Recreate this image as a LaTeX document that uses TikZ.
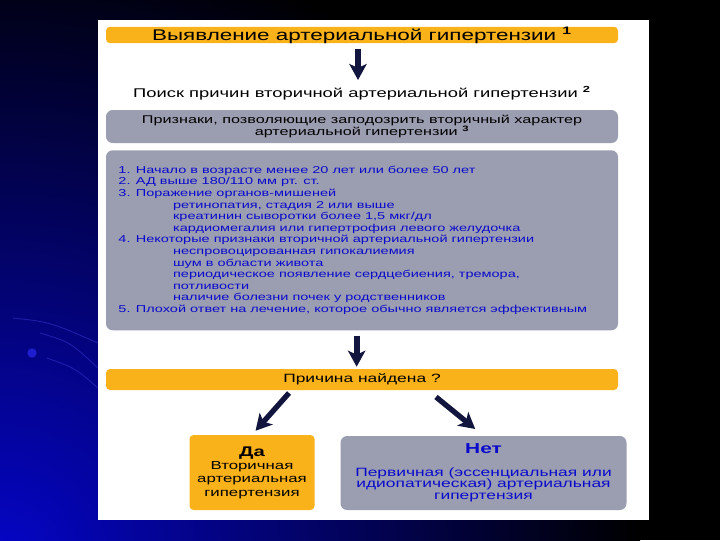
\documentclass[tikz,border=0pt]{standalone}
\usepackage{fontspec}
\setmainfont{Liberation Sans}[FakeStretch=1.45]
\usetikzlibrary{arrows.meta}
\definecolor{barOrange}{RGB}{250,178,26}
\definecolor{boxGrey}{RGB}{155,157,176}
\definecolor{listBlue}{RGB}{10,10,205}
\definecolor{arrowNavy}{RGB}{18,22,62}
\definecolor{slideBlue}{RGB}{5,5,200}

\begin{document}
\begin{tikzpicture}[x=0.75pt, y=-0.75pt,
    bar/.style={fill=barOrange, rounded corners=3pt, minimum width=384pt, inner sep=0pt},
    greybox/.style={fill=boxGrey, rounded corners=5pt, inner sep=0pt},
    bigarrow/.style={arrowNavy, line width=4.5pt, -{Stealth[length=12pt, width=13pt, inset=3pt]}}]
  \useasboundingbox (0,0) rectangle (720,540);
  % slide background
  \begin{scope}
    \clip (0,0) rectangle (720,540);
    \fill[black] (0,0) rectangle (720,540);
    \shade[inner color=slideBlue, outer color=black] (-640,-80) rectangle (640,1200);
    \draw[slideBlue!80, opacity=0.5, line width=0.7pt] (13,318) .. controls (50,322) .. (98,343);
    \draw[slideBlue!80, opacity=0.5, line width=0.7pt] (40,333) .. controls (70,342) .. (98,368);
    \draw[slideBlue!80, opacity=0.5, line width=0.7pt] (47,358) .. controls (75,368) .. (98,388);
    \fill[slideBlue!90] (32,353) circle (3.5pt);
  \end{scope}
  \fill[white] (98,20) rectangle (649,520);

  % flow chart
  \node[bar, minimum height=12pt, font=\fontsize{11.6}{13}\selectfont] (detect) at (362,35)
    {Выявление артериальной гипертензии \textsuperscript{\bfseries 1}};
  \node[font=\fontsize{9.5}{11}\selectfont] (search) at (362,93)
    {Поиск причин вторичной артериальной гипертензии \textsuperscript{\bfseries 2}};
  \node[greybox, minimum width=384pt, minimum height=24.75pt, align=center,
    font=\fontsize{8.4}{9}\selectfont] (hint) at (362,126.5)
    {Признаки, позволяющие заподозрить вторичный характер\\
     артериальной гипертензии \textsuperscript{\bfseries 3}};
  \node[greybox, minimum width=384pt, minimum height=135pt, anchor=north] (signsbox) at (362,150) {};
  \node[anchor=west, align=left, text=listBlue, font=\fontsize{7.5}{8.7}\selectfont] (signs)
    at ([xshift=6pt]signsbox.west)
    {1. Начало в возрасте менее 20 лет или более 50 лет\\
     2. АД выше 180/110 мм рт. ст.\\
     3. Поражение органов-мишеней\\
     \hspace*{41pt}ретинопатия, стадия 2 или выше\\
     \hspace*{41pt}креатинин сыворотки более 1,5 мкг/дл\\
     \hspace*{41pt}кардиомегалия или гипертрофия левого желудочка\\
     4. Некоторые признаки вторичной артериальной гипертензии\\
     \hspace*{41pt}неспровоцированная гипокалиемия\\
     \hspace*{41pt}шум в области живота\\
     \hspace*{41pt}периодическое появление сердцебиения, тремора,\\
     \hspace*{41pt}потливости\\
     \hspace*{41pt}наличие болезни почек у родственников\\
     5. Плохой ответ на лечение, которое обычно является эффективным};
  \node[bar, minimum height=15.75pt, font=\fontsize{9}{10}\selectfont] (found) at (362,379.5)
    {Причина найдена ?};
  \node[fill=barOrange, rounded corners=3pt, minimum width=93.75pt, minimum height=56.25pt,
    inner sep=0pt, align=center, font=\fontsize{8.7}{10}\selectfont] (yes) at (252,472.5)
    {{\bfseries\fontsize{10.5}{11}\selectfont Да}\\Вторичная\\артериальная\\гипертензия};
  \node[greybox, minimum width=214.5pt, minimum height=55.5pt, align=center, text=listBlue,
    font=\fontsize{9}{8.8}\selectfont] (no) at (483.5,473)
    {{\bfseries\fontsize{10.8}{11}\selectfont Нет}\\[8pt]
     Первичная (эссенциальная или\\идиопатическая) артериальная\\гипертензия};

  \coordinate (leftfoot) at (289,393);
  \coordinate (rightfoot) at (436,397);
  \draw[bigarrow, shorten <=3.75pt, shorten >=1pt] ([xshift=-3pt]detect.south) -- ([xshift=-3pt]search.north);
  \draw[bigarrow, shorten <=3.75pt, shorten >=1.5pt] ([xshift=-4pt]signsbox.south) -- ([xshift=-4pt]found.north);
  \draw[bigarrow, line width=4pt, shorten >=4pt] (leftfoot) -- (yes.north);
  \draw[bigarrow, line width=4pt, shorten >=8pt] (rightfoot) -- (no.north);
\end{tikzpicture}
\end{document}
